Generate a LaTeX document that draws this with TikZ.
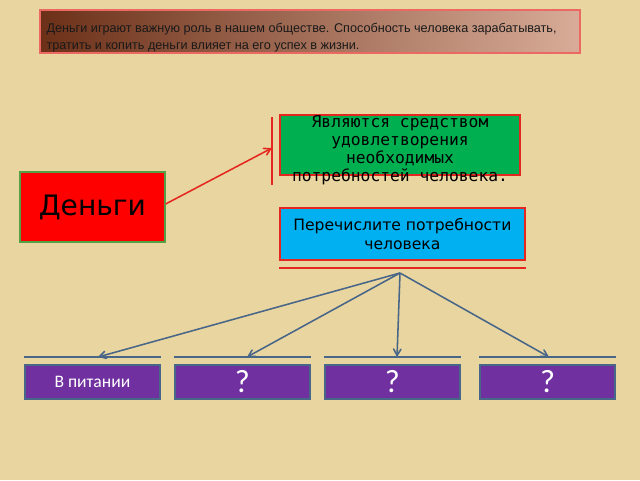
\documentclass[tikz,border=0pt]{standalone}
\usepackage{fontspec}
\setmainfont{DejaVu Sans}
\newfontfamily\arialfont{Liberation Sans}
\newfontfamily\monofont{DejaVu Sans Mono}
\newfontfamily\calfont{Carlito}
\usetikzlibrary{arrows,positioning}

\begin{document}
\begin{tikzpicture}[auto,>=angle 60,
  box/.style={rectangle, line width=1pt, inner sep=0pt, align=center},
  needbox/.style={box, draw=neededge, fill=needfill, text=white, minimum width=3.375cm, minimum height=.85cm},
  needline/.style={draw=neededge, line width=1.2pt},
  needarrow/.style={->, draw=neededge, line width=1.1pt}]

\definecolor{paper}{RGB}{233,213,160}
\definecolor{bannerdark}{RGB}{108,48,24}
\definecolor{bannerlight}{RGB}{216,172,152}
\definecolor{edgered}{RGB}{228,40,32}
\definecolor{moneyfill}{RGB}{255,0,0}
\definecolor{moneyedge}{RGB}{84,160,70}
\definecolor{meansfill}{RGB}{0,176,80}
\definecolor{listfill}{RGB}{0,176,240}
\definecolor{needfill}{RGB}{112,48,160}
\definecolor{neededge}{RGB}{72,102,136}

    %% background
    \fill[paper] (0,0) rectangle (16,12);
    \useasboundingbox (0,0) rectangle (16,12);

    %% banner
    \node[box, draw=edgered!70, left color=bannerdark, right color=bannerlight, minimum width=13.5cm, minimum height=1.075cm] (banner) at (7.75,11.21) {};
    \node[align=left, inner sep=0pt, font=\arialfont\fontsize{9}{12.2}\selectfont, text=black!90] (bannertext) at (7.54,11.05) {Деньги играют важную роль в нашем обществе. Способность человека зарабатывать,\\тратить и копить деньги влияет на его успех в жизни.};

    %% money
    \node[box, draw=moneyedge, fill=moneyfill, minimum width=3.625cm, minimum height=1.75cm, font=\fontsize{20}{24}\selectfont] (money) at (2.31,6.825) {Деньги};

    %% means of satisfying needs
    \node[box, draw=edgered, fill=meansfill, minimum width=6cm, minimum height=1.5cm] (means) at (10,8.375) {};
    \node[align=center, font=\monofont\fontsize{11.6}{12.9}\selectfont, inner sep=0pt] (meanslabel) at (10,8.25) {Являются средством\\удовлетворения\\необходимых\\потребностей человека.};
    \coordinate (bartop) at (6.8,9.075);
    \coordinate (barbot) at (6.8,7.375);
    \coordinate (barmid) at (6.8,8.3);
    \draw[edgered, line width=1.1pt] (bartop) -- (barbot);
    \draw[->, edgered, line width=1.1pt] (money.east |- 0,6.9) to (barmid);

    %% list the needs
    \node[box, draw=edgered, fill=listfill, minimum width=6.125cm, minimum height=1.3cm, font=\fontsize{11.1}{13.4}\selectfont] (list) at (10.06,6.15) {Перечислите потребности\\человека};
    \draw[edgered, line width=1.1pt] (list.south west |- 0,5.3) -- (list.south east |- 0,5.3);
    \coordinate (hub) at (10,5.175);

    %% needs
    \node[needbox, font=\calfont\fontsize{12.5}{14}\selectfont] (need1) at (2.31,2.45) {В питании};
    \node[needbox, font=\calfont\fontsize{23}{26}\selectfont] (need2) at (6.06,2.45) {?};
    \node[needbox, font=\calfont\fontsize{23}{26}\selectfont] (need3) at (9.81,2.45) {?};
    \node[needbox, font=\calfont\fontsize{23}{26}\selectfont] (need4) at (13.69,2.45) {?};

    \foreach \n in {1,2,3,4}
      \draw[needline] ([yshift=5pt]need\n.north west) -- ([yshift=5pt]need\n.north east);

    \coordinate (end1) at (2.45,3.075);
    \coordinate (end2) at (6.175,3.075);
    \coordinate (end3) at (9.925,3.075);
    \coordinate (end4) at (13.725,3.075);
    \foreach \n in {1,2,3,4}
      \draw[needarrow] (hub) -- (end\n);
\end{tikzpicture}
\end{document}
